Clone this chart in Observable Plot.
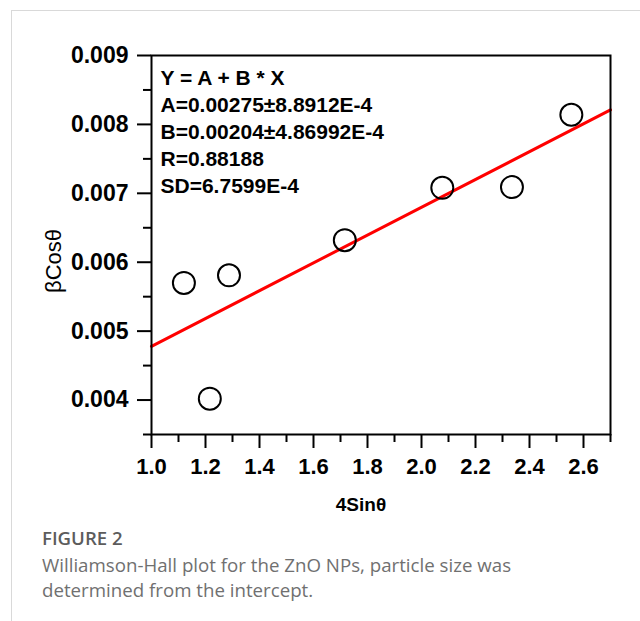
<!DOCTYPE html>
<html>
<head>
<meta charset="utf-8">
<script src="https://cdn.jsdelivr.net/npm/d3@7"></script>
<script src="https://cdn.jsdelivr.net/npm/@observablehq/plot@0.6"></script>
<style>
  html, body { margin: 0; padding: 0; background: #fff; width: 640px; height: 621px; overflow: hidden; }
  #card { position: absolute; left: 11px; top: 10px; width: 640px; height: 620px; border-left: 1px solid #d9d9d9; border-top: 1px solid #d9d9d9; }
  #chart { position: absolute; left: 0; top: 0; }
  #caption { position: absolute; left: 42px; top: 524px; font-family: "Open Sans", "Noto Sans", sans-serif; color: #707070; font-size: 18.7px; line-height: 25px; }
  #caption .fig { font-weight: 600; font-size: 18.6px; line-height: 28px; color: #5c5c5c; }
</style>
</head>
<body>
<div id="card"></div>
<div id="chart"></div>
<div id="caption"><div class="fig">FIGURE 2</div><div>Williamson-Hall plot for the ZnO NPs, particle size was<br>determined from the intercept.</div></div>
<script>
// Data
const sinX = [1.12, 1.216, 1.287, 1.716, 2.077, 2.335, 2.555];
const betaCos = [0.00570, 0.00402, 0.00581, 0.00632, 0.00708, 0.00709, 0.00814];
const fitX = [1.0, 2.7];
const fitY = [0.00478, 0.00821];
const xMajor = [1.0, 1.2, 1.4, 1.6, 1.8, 2.0, 2.2, 2.4, 2.6];
const xMinor = [1.1, 1.3, 1.5, 1.7, 1.9, 2.1, 2.3, 2.5, 2.7];
const yMajor = [0.004, 0.005, 0.006, 0.007, 0.008, 0.009];
const yMinor = [0.0035, 0.0045, 0.0055, 0.0065, 0.0075, 0.0085];
const fitLines = ["Y = A + B * X", "A=0.00275\u00b18.8912E-4", "B=0.00204\u00b14.86992E-4", "R=0.88188", "SD=6.7599E-4"];
const xLabel = "4Sin\u03b8";
const yLabel = "\u03b2Cos\u03b8";

const points = sinX.map((x, i) => ({x, y: betaCos[i]}));
const fit = fitX.map((x, i) => ({x, y: fitY[i]}));
const font = "'Liberation Sans', Arial, sans-serif";

const chart = Plot.plot({
  width: 640,
  height: 525,
  marginLeft: 151,
  marginRight: 30,
  marginTop: 55,
  marginBottom: 91,
  style: {fontFamily: font, background: "transparent", color: "black"},
  x: {domain: [1.0, 2.7], axis: null},
  y: {domain: [0.0035, 0.009], axis: null},
  marks: [
    Plot.axisX(xMinor, {anchor: "bottom", tickSize: 8, strokeWidth: 2, tickFormat: () => "", label: null}),
    Plot.axisX(xMajor, {anchor: "bottom", tickSize: 14, strokeWidth: 2, tickPadding: 10, tickFormat: d => d.toFixed(1), fontSize: 22, fontWeight: "bold", label: null}),
    Plot.axisY(yMinor, {anchor: "left", tickSize: 8, strokeWidth: 2, tickFormat: () => "", label: null}),
    Plot.axisY(yMajor, {anchor: "left", tickSize: 14, strokeWidth: 2, tickPadding: 9, tickFormat: d => d.toFixed(3), fontSize: 23, fontWeight: "bold", label: null}),
    Plot.line(fit, {x: "x", y: "y", stroke: "#ff0000", strokeWidth: 3}),
    Plot.dot(points, {x: "x", y: "y", r: 11, stroke: "black", strokeWidth: 2, fill: "none"}),
    Plot.frame({stroke: "black", strokeWidth: 2}),
    Plot.text([fitLines.join("\n")], {frameAnchor: "top-left", textAnchor: "start", lineAnchor: "top", dx: 9, dy: 10, fontSize: 21, fontWeight: "bold", lineHeight: 1.29}),
    Plot.text([xLabel], {frameAnchor: "bottom", lineAnchor: "middle", dx: -20, dy: 70, fontSize: 19, fontWeight: "bold"}),
    Plot.text([yLabel], {frameAnchor: "left", rotate: -90, textAnchor: "middle", lineAnchor: "middle", dx: -98, dy: 16, fontSize: 22, fontWeight: "normal"})
  ]
});
document.getElementById("chart").appendChild(chart);
</script>
</body>
</html>
